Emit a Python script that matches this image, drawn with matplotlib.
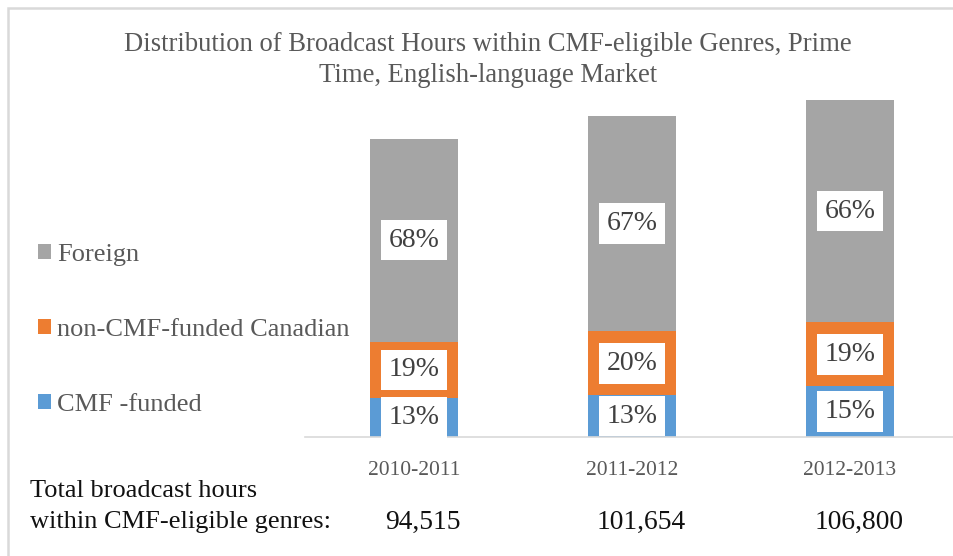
import matplotlib.pyplot as plt
from matplotlib.patches import Rectangle
from matplotlib.transforms import blended_transform_factory

plt.rcParams['font.family'] = ['Liberation Serif', 'DejaVu Serif']

# data
seasons = ["2010-2011", "2011-2012", "2012-2013"]
totals = [94515, 101654, 106800]
cmf_funded = [13, 13, 15]
non_cmf_canadian = [19, 20, 19]
foreign = [68, 67, 66]

series = [
    ("CMF -funded", cmf_funded, "#5B9BD5"),
    ("non-CMF-funded Canadian", non_cmf_canadian, "#ED7D31"),
    ("Foreign", foreign, "#A5A5A5"),
]

W, H = 954, 556
fig = plt.figure(figsize=(W / 100, H / 100), dpi=100)

# axes placed in pixel terms; right edge runs past the figure like the source crop
ax_left, ax_right, ax_bottom = 305, 959, 437
ymax = 110000
px_per_unit = 337 / 106800
ax_h = ymax * px_per_unit
ax = fig.add_axes([ax_left / W, (H - ax_bottom) / H, (ax_right - ax_left) / W, ax_h / H])

x = list(range(len(seasons)))
bottoms = [0.0] * len(seasons)
handles = []
for name, pcts, color in series:
    heights = [t * p / 100 for t, p in zip(totals, pcts)]
    bars = ax.bar(x, heights, width=0.4, bottom=bottoms, color=color, label=name, zorder=2)
    handles.append(bars)
    for xi, b, h, p in zip(x, bottoms, heights, pcts):
        ax.text(xi, b + h / 2, f"{p}%", ha="center", va="center", fontsize=20,
                color="#404040", zorder=3,
                bbox=dict(boxstyle="square,pad=0.28", fc="white", ec="none"))
    bottoms = [b + h for b, h in zip(bottoms, heights)]

ax.set_xlim(-0.5, 2.5)
ax.set_ylim(0, ymax)
ax.set_yticks([])
ax.set_xticks(x)
ax.set_xticklabels(seasons, fontsize=15.5, color="#595959")
ax.tick_params(axis="x", length=0, pad=17)
for s in ["top", "right", "left"]:
    ax.spines[s].set_visible(False)
ax.spines["bottom"].set_color("#D9D9D9")
ax.spines["bottom"].set_linewidth(1.2)
ax.patch.set_alpha(0)

# legend on the left, reversed order
leg = fig.legend(handles[::-1], [s[0] for s in series][::-1], loc="center left",
                 bbox_to_anchor=(14 / W, 1 - 330 / H), frameon=False, fontsize=19,
                 handlelength=0.5, handleheight=0.5, handletextpad=0.22,
                 labelspacing=2.01, labelcolor="#595959")

# title
fig.text(488 / W, 1 - 60 / H,
         "Distribution of Broadcast Hours within CMF-eligible Genres, Prime\nTime, English-language Market",
         ha="center", va="center", fontsize=19.2, color="#595959", linespacing=1.3)

# totals row
fig.text(30 / W, 1 - 491 / H, "Total broadcast hours", ha="left", va="center",
         fontsize=19, color="#111111")
fig.text(30 / W, 1 - 522 / H, "within CMF-eligible genres:", ha="left", va="center",
         fontsize=19, color="#111111")
trans = blended_transform_factory(ax.transData, fig.transFigure)
for xi, t in zip(x, totals):
    ax.text(xi + 0.04, 1 - 522 / H, f"{t:,}", transform=trans, ha="center", va="center",
            fontsize=19.8, color="#111111", clip_on=False)

# chart border (top and left visible in crop)
fig.patches.append(Rectangle((8 / W, -0.1), 1.2, 1 - 8 / H + 0.1, transform=fig.transFigure,
                             fill=False, ec="#D9D9D9", lw=1.8))

fig.savefig("out.png", dpi=100)
